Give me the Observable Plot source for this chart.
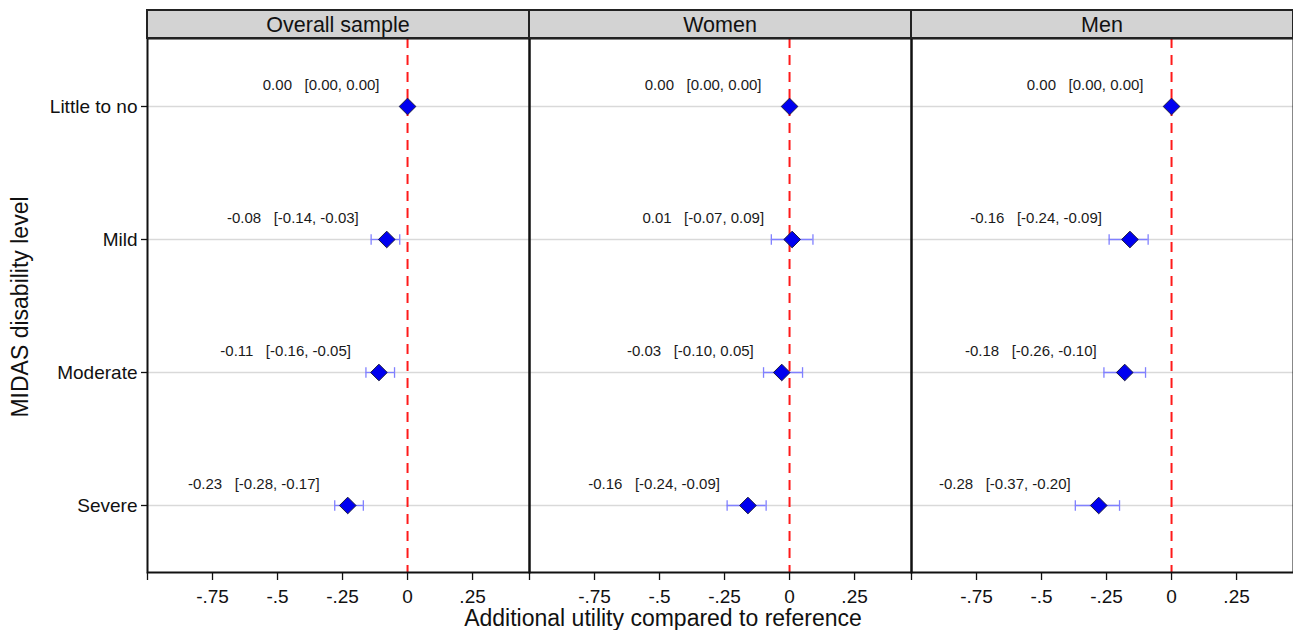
<!DOCTYPE html>
<html>
<head>
<meta charset="utf-8">
<script src="https://cdn.jsdelivr.net/npm/d3@7"></script>
<script src="https://cdn.jsdelivr.net/npm/@observablehq/plot@0.6"></script>
<style>
  html, body { margin: 0; padding: 0; background: #fff; }
  svg { font-family: "Liberation Sans", Arial, sans-serif; }
</style>
</head>
<body>
<div id="chart"></div>
<script>
const groups = ["Overall sample", "Women", "Men"];
const levels = ["Little to no", "Mild", "Moderate", "Severe"];
const estimates = {
  "Overall sample": [0.00, -0.08, -0.11, -0.23],
  "Women":          [0.00,  0.01, -0.03, -0.16],
  "Men":            [0.00, -0.16, -0.18, -0.28]
};
const lower = {
  "Overall sample": [0.00, -0.14, -0.16, -0.28],
  "Women":          [0.00, -0.07, -0.10, -0.24],
  "Men":            [0.00, -0.24, -0.26, -0.37]
};
const upper = {
  "Overall sample": [0.00, -0.03, -0.05, -0.17],
  "Women":          [0.00,  0.09,  0.05, -0.09],
  "Men":            [0.00, -0.09, -0.10, -0.20]
};
const xTicks = [-1, -0.75, -0.5, -0.25, 0, 0.25];
const xTickLabels = ["", "-.75", "-.5", "-.25", "0", ".25"];

const rows = [];
for (const g of groups) {
  levels.forEach((lv, i) => {
    rows.push({group: g, level: lv, est: estimates[g][i], lo: lower[g][i], hi: upper[g][i]});
  });
}
const f2 = v => (v < 0 ? "-" : "") + Math.abs(v).toFixed(2);
rows.forEach(d => { d.label = `${f2(d.est)}\u00a0\u00a0\u00a0[${f2(d.lo)}, ${f2(d.hi)}]`; });

const capSymbol = {
  draw(context, size) {
    const r = Math.sqrt(size) / 2;
    context.moveTo(0, -r);
    context.lineTo(0, r);
  }
};

const width = 1293, height = 630;
const plot = Plot.plot({
  width, height,
  marginLeft: 147, marginRight: 0, marginTop: 38, marginBottom: 58,
  style: {fontFamily: '"Liberation Sans", Arial, sans-serif', fontSize: "19px", color: "#111", background: "#fff"},
  fx: {domain: groups, padding: 0, axis: null},
  x: {domain: [-1, 0.469], ticks: xTicks, tickFormat: (d) => xTickLabels[xTicks.indexOf(d)], label: null},
  y: {type: "point", domain: levels, padding: 0.5, label: null},
  marks: [
    Plot.gridY(levels, {stroke: "#d9d9d9", strokeOpacity: 1, strokeWidth: 1.5}),
    Plot.ruleX([0], {stroke: "#ff1a1a", strokeWidth: 2, strokeDasharray: "10,7"}),
    Plot.ruleY(rows, {fx: "group", y: "level", x1: "lo", x2: "hi", stroke: "#8080ff", strokeWidth: 1.3}),
    Plot.dot(rows, {fx: "group", y: "level", x: "lo", symbol: capSymbol, r: 6, stroke: "#8080ff", strokeWidth: 1.3, fill: "none"}),
    Plot.dot(rows, {fx: "group", y: "level", x: "hi", symbol: capSymbol, r: 6, stroke: "#8080ff", strokeWidth: 1.3, fill: "none"}),
    Plot.dot(rows, {fx: "group", y: "level", x: "est", symbol: "diamond2", r: 7.5, fill: "#0000f0", stroke: "#1a1a40", strokeWidth: 1}),
    Plot.text(rows, {fx: "group", y: "level", x: "est", text: "label", textAnchor: "end", dx: -28, dy: -21, fontSize: 15, fill: "#1a1a1a"}),
    Plot.axisX({ticks: xTicks, tickFormat: (d) => xTickLabels[xTicks.indexOf(d)], tickSize: 8, tickPadding: 9, fontSize: 19, stroke: "#111", strokeWidth: 1.3, label: null}),
    Plot.axisY({tickSize: 6, tickPadding: 4, fontSize: 19, stroke: "#111", strokeWidth: 1.3, label: null}),
    Plot.frame({stroke: "#111", strokeWidth: 2})
  ]
});
document.getElementById("chart").appendChild(plot);

// Strip headers above each facet, positioned from the fx scale
const svg = d3.select(plot);
const fx = plot.scale("fx");
const strip = svg.append("g");
for (const g of groups) {
  const x0 = fx.apply(g);
  const bw = fx.bandwidth;
  strip.append("rect")
    .attr("x", x0).attr("y", 10).attr("width", bw).attr("height", 28)
    .attr("fill", "#d3d3d3").attr("stroke", "#222").attr("stroke-width", 2);
  strip.append("text")
    .attr("x", x0 + bw / 2).attr("y", 32)
    .attr("text-anchor", "middle").attr("font-size", 21.5).attr("fill", "#111")
    .text(g);
}
// Axis titles
svg.append("text")
  .attr("x", 663).attr("y", 626)
  .attr("text-anchor", "middle").attr("font-size", 23).attr("fill", "#111")
  .text("Additional utility compared to reference");
svg.append("text")
  .attr("transform", `translate(28,307) rotate(-90)`)
  .attr("text-anchor", "middle").attr("font-size", 23).attr("fill", "#111")
  .text("MIDAS disability level");
</script>
</body>
</html>
